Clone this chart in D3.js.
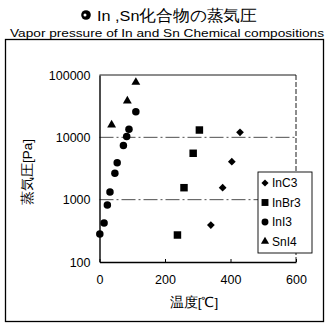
<!DOCTYPE html>
<html><head><meta charset="utf-8">
<script src="https://cdn.jsdelivr.net/npm/d3@7/dist/d3.min.js"></script>
<style>body{margin:0;background:#fff}svg{display:block}text{font-family:"Liberation Sans",Arial,sans-serif;fill:#000}</style>
</head><body>
<script>
const title = "In ,Sn化合物の蒸気圧";
const subtitle = "Vapor pressure of In and Sn Chemical compositions";
const xLabel = "温度[℃]";
const yLabel = "蒸気圧[Pa]";
const xTicks = [0, 200, 400, 600];
const yTicks = [100, 1000, 10000, 100000];
const seriesNames = ["InC3", "InBr3", "InI3", "SnI4"];
const inc3Temp = [340, 376, 404, 429];
const inc3Pres = [392, 1556, 4065, 12050];
const inbr3Temp = [238, 258, 286, 305];
const inbr3Pres = [271, 1556, 5550, 13100];
const ini3Temp = [1, 14, 24, 32, 47, 54, 73, 83, 90, 111];
const ini3Pres = [281, 422, 821, 1327, 2650, 3920, 7400, 10350, 13500, 25800];
const sni4Temp = [37, 85, 111];
const sni4Pres = [15800, 38300, 76400];

const W = 326, H = 327;
const svg = d3.select("body").append("svg").attr("width", W).attr("height", H);

const x = d3.scaleLinear().domain([0, 600]).range([99.5, 296]);
const y = d3.scaleLog().domain([100, 100000]).range([262, 75]);

// title
svg.append("circle").attr("cx", 86).attr("cy", 15).attr("r", 4.8).attr("fill", "#000");
svg.append("circle").attr("cx", 85).attr("cy", 15).attr("r", 1.5).attr("fill", "#fff");
svg.append("text").attr("x", 97).attr("y", 21).attr("font-size", 15.5)
  .attr("textLength", 160).attr("lengthAdjust", "spacingAndGlyphs").text(title);
svg.append("text").attr("x", 10).attr("y", 37).attr("font-size", 10.5)
  .attr("textLength", 314).attr("lengthAdjust", "spacingAndGlyphs").text(subtitle);

// outer frame
svg.append("rect").attr("x", 5.5).attr("y", 39.5).attr("width", 318).attr("height", 282)
  .attr("fill", "none").attr("stroke", "#000").attr("stroke-width", 1.3);

// gridlines
svg.selectAll("line.grid").data([1000, 10000]).enter().append("line")
  .attr("x1", x(0)).attr("x2", x(600)).attr("y1", d => y(d)).attr("y2", d => y(d))
  .attr("stroke", "#222").attr("stroke-width", 0.8).attr("stroke-dasharray", "14,3,2,3");

// plot frame top/right
svg.append("line").attr("x1", x(0)).attr("x2", x(600)).attr("y1", y(100000)).attr("y2", y(100000))
  .attr("stroke", "#000").attr("stroke-width", 0.9);
svg.append("line").attr("x1", x(600)).attr("x2", x(600)).attr("y1", y(100000)).attr("y2", y(100))
  .attr("stroke", "#000").attr("stroke-width", 0.9).attr("stroke-dasharray", "5,2");

// axes
const xAxis = d3.axisBottom(x).tickValues(xTicks).tickSizeInner(-3).tickSizeOuter(0).tickPadding(13);
const gx = svg.append("g").attr("transform", `translate(0,${y(100)})`).call(xAxis);
const yAxis = d3.axisLeft(y).tickValues(yTicks).tickFormat(d3.format("d")).tickSizeInner(0).tickSizeOuter(0).tickPadding(9);
const gy = svg.append("g").attr("transform", `translate(${x(0)},0)`).call(yAxis);
[gx, gy].forEach(g => {
  g.selectAll(".domain").attr("stroke", "#000").attr("stroke-width", 1.4);
  g.selectAll("line").attr("stroke", "#000");
  g.selectAll("text").attr("font-size", 12.5).attr("font-family", "Liberation Sans, Arial, sans-serif").attr("fill", "#000");
});

// axis titles
svg.append("text").attr("x", 194).attr("y", 307).attr("text-anchor", "middle").attr("font-size", 13.5)
  .attr("font-family", "Noto Sans CJK JP").text(xLabel);
svg.append("text").attr("transform", "translate(32,172) rotate(-90)").attr("text-anchor", "middle")
  .attr("font-size", 13.5).attr("font-family", "Noto Sans CJK JP").text(yLabel);

// markers
const sym = {
  InC3: {type: d3.symbolSquare, size: 30, rot: 45},
  InBr3: {type: d3.symbolSquare, size: 56, rot: 0},
  InI3: {type: d3.symbolCircle, size: 44, rot: 0},
  SnI4: {type: d3.symbolTriangle, size: 34, rot: 0}
};
const series = [
  {name: "InC3", t: inc3Temp, p: inc3Pres},
  {name: "InBr3", t: inbr3Temp, p: inbr3Pres},
  {name: "InI3", t: ini3Temp, p: ini3Pres},
  {name: "SnI4", t: sni4Temp, p: sni4Pres}
];
series.forEach(s => {
  const sp = sym[s.name];
  svg.append("g").selectAll("path").data(s.t.map((t, i) => [t, s.p[i]])).enter().append("path")
    .attr("d", d3.symbol().type(sp.type).size(sp.size))
    .attr("transform", d => `translate(${x(d[0])},${y(d[1])}) rotate(${sp.rot})`)
    .attr("fill", "#000");
});

// legend
const lg = svg.append("g");
lg.append("rect").attr("x", 258).attr("y", 172).attr("width", 54).attr("height", 81)
  .attr("fill", "#fff").attr("stroke", "#000").attr("stroke-width", 0.9);
seriesNames.forEach((n, i) => {
  const yy = 183 + i * 19.5;
  const sp = sym[n];
  lg.append("path").attr("d", d3.symbol().type(sp.type).size(sp.size * 0.85))
    .attr("transform", `translate(265,${yy}) rotate(${sp.rot})`).attr("fill", "#000");
  lg.append("text").attr("x", 272).attr("y", yy + 4).attr("font-size", 12).text(n);
});
</script>
</body></html>
